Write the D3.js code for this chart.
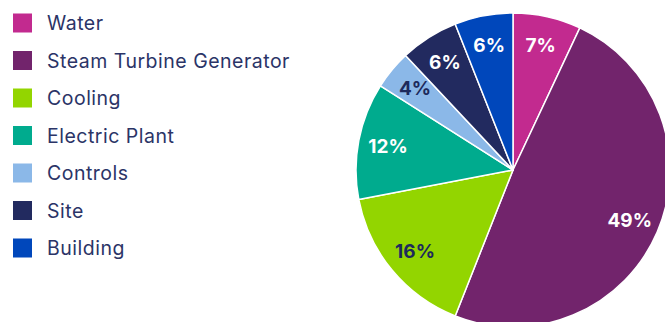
<!DOCTYPE html>
<html>
<head>
<meta charset="utf-8">
<script src="https://cdn.jsdelivr.net/npm/d3@7"></script>
<style>
  html, body { margin: 0; padding: 0; background: #fff; }
  svg { display: block; }
</style>
</head>
<body>
<svg id="chart" width="665" height="322"></svg>
<script>
// Cost breakdown by system
const categories = ["Water", "Steam Turbine Generator", "Cooling", "Electric Plant", "Controls", "Site", "Building"];
const shares = [7, 49, 16, 12, 4, 6, 6];
const colors = ["#c22a8f", "#72246c", "#93d500", "#00ab8e", "#8bb8e8", "#222a5f", "#0047bb"];
const labelColors = ["#ffffff", "#ffffff", "#1d2a5c", "#ffffff", "#1d2a5c", "#ffffff", "#ffffff"];

const svg = d3.select("#chart");
const fontFamily = "Inter, 'Open Sans', sans-serif";

const data = categories.map((c, i) => ({ name: c, value: shares[i], color: colors[i], label: labelColors[i] }));

// Pie, starting at 12 o'clock and running clockwise in data order
const cx = 513, cy = 170, R = 157;
const pie = d3.pie().value(d => d.value).sort(null);
const arc = d3.arc().innerRadius(0).outerRadius(R);
const labelArc = d3.arc().innerRadius(R * 0.81).outerRadius(R * 0.81);

const g = svg.append("g").attr("transform", `translate(${cx},${cy})`);
const arcs = pie(data);

g.selectAll("path.slice")
  .data(arcs)
  .join("path")
  .attr("class", "slice")
  .attr("d", arc)
  .attr("fill", d => d.data.color)
  .attr("stroke", "#ffffff")
  .attr("stroke-width", 1.5)
  .attr("stroke-linejoin", "round");

g.selectAll("text.pct")
  .data(arcs)
  .join("text")
  .attr("class", "pct")
  .attr("transform", d => `translate(${labelArc.centroid(d)})`)
  .attr("text-anchor", "middle")
  .attr("dominant-baseline", "central")
  .attr("font-family", fontFamily)
  .attr("font-weight", 700)
  .attr("font-size", 19)
  .attr("fill", d => d.data.label)
  .text(d => d.data.value + "%");

// Legend
const y = d3.scalePoint().domain(categories).range([23, 248]);
const legend = svg.append("g");
const rows = legend.selectAll("g.row")
  .data(data)
  .join("g")
  .attr("class", "row")
  .attr("transform", d => `translate(13,${y(d.name)})`);

rows.append("rect")
  .attr("x", 0).attr("y", -9.5)
  .attr("width", 19).attr("height", 19)
  .attr("fill", d => d.color);

rows.append("text")
  .attr("x", 34)
  .attr("y", 0)
  .attr("dominant-baseline", "central")
  .attr("font-family", fontFamily)
  .attr("font-size", 19.5)
  .attr("letter-spacing", 0.5)
  .attr("fill", "#2b3467")
  .text(d => d.name);
</script>
</body>
</html>
